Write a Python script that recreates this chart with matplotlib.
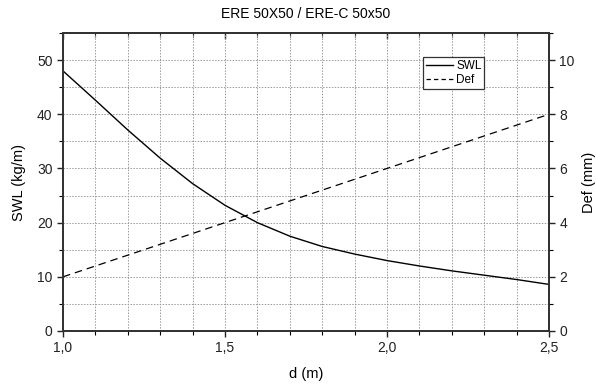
import matplotlib
matplotlib.use("Agg")
import matplotlib.pyplot as plt
from matplotlib.lines import Line2D
from matplotlib.ticker import MultipleLocator, FuncFormatter

plt.rcParams['font.family'] = ['Liberation Sans', 'DejaVu Sans']

# data
d = [1.0, 1.1, 1.2, 1.3, 1.4, 1.5, 1.6, 1.7, 1.8, 1.9, 2.0, 2.1, 2.2, 2.3, 2.4, 2.5]
swl = [48.0, 42.6, 37.1, 31.9, 27.2, 23.2, 20.0, 17.5, 15.6, 14.2, 13.0, 12.0, 11.1, 10.3, 9.5, 8.6]
deflection = [2.0, 2.4, 2.8, 3.2, 3.6, 4.0, 4.4, 4.8, 5.2, 5.6, 6.0, 6.4, 6.8, 7.2, 7.6, 8.0]

title = "ERE 50X50 / ERE-C 50x50"

fig = plt.figure(figsize=(5.96, 3.86), dpi=100)
ax = fig.add_axes([63 / 596, 1 - 331 / 386, 486 / 596, 298 / 386])
ax2 = ax.twinx()

l1, = ax.plot(d, swl, color='black', lw=1.0, label='SWL')
l2, = ax2.plot(d, deflection, color='black', lw=0.9, dashes=(6, 4), label='Def')

ax.set_xlim(1.0, 2.5)
ax.set_ylim(0, 55)
ax2.set_ylim(0, 11)

ax.xaxis.set_major_locator(MultipleLocator(0.5))
ax.xaxis.set_minor_locator(MultipleLocator(0.1))
ax.yaxis.set_major_locator(MultipleLocator(10))
ax.yaxis.set_minor_locator(MultipleLocator(5))
ax2.yaxis.set_major_locator(MultipleLocator(2))
ax2.yaxis.set_minor_locator(MultipleLocator(1))
ax.xaxis.set_major_formatter(FuncFormatter(lambda v, p: f"{v:.1f}".replace('.', ',')))

ax.grid(which='both', color='#9a9a9a', linestyle=(0, (1.5, 1.5)), linewidth=0.7)
ax.set_axisbelow(True)

for a in (ax, ax2):
    for s in a.spines.values():
        s.set_color('#333333')
        s.set_linewidth(1.3)
    a.tick_params(which='major', direction='out', length=4, width=1, labelsize=10, colors='#222222')
    a.tick_params(which='minor', direction='out', length=3, width=0.8)

ax.tick_params(axis='x', which='both', pad=3)

# top ticks point inward
top = ax.secondary_xaxis('top')
top.xaxis.set_major_locator(MultipleLocator(0.5))
top.xaxis.set_minor_locator(MultipleLocator(0.1))
top.tick_params(which='both', direction='in', labeltop=False, colors='#222222')
top.tick_params(which='major', length=4, width=1)
top.tick_params(which='minor', length=3, width=0.8)
top.spines['top'].set_color('#222222')
top.spines['top'].set_linewidth(1.3)

ax.set_xlabel('d (m)', fontsize=10.5, labelpad=9)
ax.set_ylabel('SWL (kg/m)', fontsize=10.5, labelpad=8)
ax2.set_ylabel('Def (mm)', fontsize=10.5, labelpad=5)
ax.set_title(title, fontsize=10, pad=11)

# legend handles: shorter dashes so three fit in the sample
h1 = Line2D([], [], color='black', lw=1.0)
h2 = Line2D([], [], color='black', lw=0.9, dashes=(3.5, 2.5))
leg = ax2.legend(handles=[h1, h2], labels=['SWL', 'Def'], loc='upper left',
                 bbox_to_anchor=((423 - 63) / 486, 1 - (57 - 33) / 298),
                 fontsize=8.5, frameon=True, fancybox=False, framealpha=1,
                 edgecolor='#333333', handlelength=2.3, handletextpad=0.25,
                 labelspacing=0.2, borderpad=0.25, borderaxespad=0)
leg.get_frame().set_linewidth(0.9)

fig.savefig('out.png', dpi=100)
